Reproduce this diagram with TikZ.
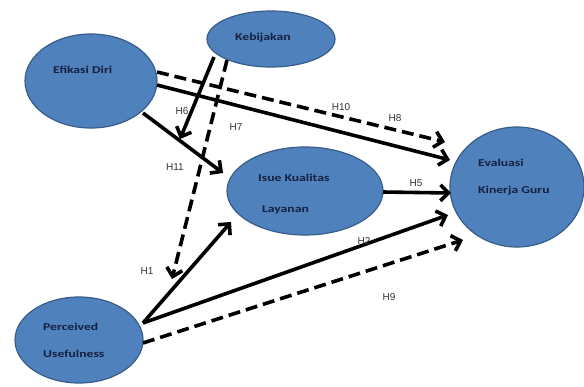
\documentclass[tikz,border=0pt]{standalone}
\usepackage{fontspec}
\setmainfont{Carlito}
\newfontfamily\nodefont[FakeStretch=1.3]{Carlito Bold}
\newfontfamily\lblfont{Liberation Sans}
\usetikzlibrary{arrows.meta,shapes.geometric}
\definecolor{nodefill}{RGB}{79,129,189}
\definecolor{nodeline}{RGB}{56,93,138}
\definecolor{nodetext}{RGB}{22,32,62}
\tikzset{
  var/.style={ellipse, draw=nodeline, line width=1.2pt, fill=nodefill, inner sep=0pt},
  vtext/.style={text=nodetext, font=\nodefont\fontsize{10.5}{12}\selectfont, inner sep=0pt, anchor=west},
  link/.style={line width=3.6pt, -{Straight Barb[length=8pt,width=16pt]}},
  dlink/.style={link, dash pattern=on 12pt off 6pt},
  hlabel/.style={font=\lblfont\fontsize{10}{11}\selectfont, text=black!80, inner sep=0pt}
}
\begin{document}
\begin{tikzpicture}[x=1pt,y=-1pt]
\useasboundingbox (0,0) rectangle (584,386);
\fill[white] (0,0) rectangle (584,386);
% variables
\node[var, minimum width=132pt, minimum height=94pt] (efi) at (91,81) {};
\node[var, minimum width=128pt, minimum height=56pt] (keb) at (271,39) {};
\node[var, minimum width=156pt, minimum height=88pt] (isu) at (305,191) {};
\node[var, minimum width=134pt, minimum height=120pt] (eva) at (517,187) {};
\node[var, minimum width=128pt, minimum height=86pt] (pu) at (79,340) {};
% texts
\node[vtext] (tefi) at (53,70) {Efikasi Diri};
\node[vtext] (tkeb) at (235,38) {Kebijakan};
\node[vtext] (tisu1) at (258,178) {Isue Kualitas};
\node[vtext] (tisu2) at (262,210) {Layanan};
\node[vtext] (teva1) at (478,163) {Evaluasi};
\node[vtext] (teva2) at (478,191) {Kinerja Guru};
\node[vtext] (tpu1) at (43,327) {Perceived};
\node[vtext] (tpu2) at (43,354) {Usefulness};
% free ends
\coordinate (c1) at (157,72);
\coordinate (c2) at (157,85);
\coordinate (c3) at (143,113);
\coordinate (t1) at (445,142);
\coordinate (t2) at (450,160);
\coordinate (t3) at (223,173);
\coordinate (m1) at (180,139);
\coordinate (m2) at (172,279);
\coordinate (p1) at (143,323);
\coordinate (p2) at (143,343);
\coordinate (t4) at (231,222);
\coordinate (t5) at (448,215);
\coordinate (t6) at (463,240);
\coordinate (i1) at (383,192);
\coordinate (t7) at (451,193);
\coordinate (k1) at (214,57);
\coordinate (k2) at (227,60);
% connectors
\draw[dlink] (c1) -- (t1);
\draw[link] (c2) -- (t2);
\draw[link] (c3) -- (t3);
\draw[link] (k1) -- (m1);
\draw[dlink] (k2) -- (m2);
\draw[link] (p1) -- (t4);
\draw[link] (p1) -- (t5);
\draw[dlink] (p2) -- (t6);
\draw[link] (i1) -- (t7);
% labels
\node[hlabel] (h6) at (182,111) {H6};
\node[hlabel] (h7) at (236,127) {H7};
\node[hlabel] (h11) at (175,167) {H11};
\node[hlabel] (h10) at (341,107) {H10};
\node[hlabel] (h8) at (395,118) {H8};
\node[hlabel] (h5) at (416,183) {H5};
\node[hlabel] (h2) at (364,241) {H2};
\node[hlabel] (h9) at (389,297) {H9};
\node[hlabel] (h1) at (147,271) {H1};
\end{tikzpicture}
\end{document}
